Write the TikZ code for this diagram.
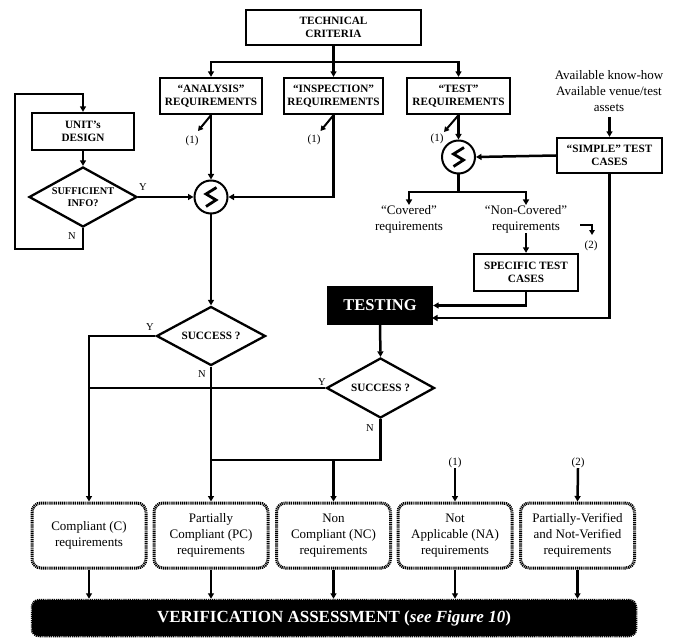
\documentclass[tikz,border=0pt]{standalone}
\usepackage{fontspec}
\setmainfont{Liberation Serif}
\usetikzlibrary{arrows.meta,shapes.geometric,calc}
\begin{document}
\begin{tikzpicture}[x=1pt,y=-1pt,
  ln/.style={line width=2.5pt},
  arr/.style={line width=2.5pt,-{Triangle[length=5.5pt,width=6pt]}},
  thin arr/.style={line width=2pt,-{Triangle[length=5pt,width=5.5pt]}},
  box/.style={draw,line width=2.3pt,fill=white,inner sep=0pt,align=center,
    font=\fontsize{11.2}{13}\selectfont\bfseries},
  dia/.style={draw,diamond,aspect=1.8,line width=2.3pt,fill=white,inner sep=0pt,align=center,
    minimum width=108pt,minimum height=60pt,font=\fontsize{11.2}{13}\selectfont\bfseries},
  res/.style={draw,line width=3pt,dash pattern=on 1.1pt off 0.8pt,rounded corners=9pt,
    fill=white,minimum width=114pt,minimum height=65pt,inner sep=0pt,align=center,
    font=\fontsize{13}{16}\selectfont},
  txt/.style={align=center,inner sep=0pt,font=\fontsize{13}{16}\selectfont},
  note/.style={inner sep=0pt,font=\fontsize{11}{12}\selectfont},
  yn/.style={inner sep=0pt,font=\fontsize{10.5}{12}\selectfont},
  cmp/.style={draw,circle,line width=2pt,fill=white,minimum size=33pt,inner sep=0pt},
]
\useasboundingbox (0,0) rectangle (677,639);

% top boxes
\node[box,minimum width=175pt,minimum height=35pt] (tech) at (333.5,27.5) {TECHNICAL\\CRITERIA};
\node[box,minimum width=102pt,minimum height=36pt] (ana) at (211,96) {``ANALYSIS''\\REQUIREMENTS};
\node[box,minimum width=99pt,minimum height=36pt] (insp) at (333.5,96) {``INSPECTION''\\REQUIREMENTS};
\node[box,minimum width=103pt,minimum height=36pt] (test) at (458.5,96) {``TEST''\\REQUIREMENTS};
\node[box,minimum width=102pt,minimum height=37pt] (unit) at (83,131.5) {UNIT's\\DESIGN};
\node[dia,font=\fontsize{10.3}{12.5}\selectfont\bfseries] (suff) at (83,197) {SUFFICIENT\\INFO?};
\node[cmp] (c1) at (211,197) {};
\node[cmp] (c2) at (458.5,157) {};
\node[box,minimum width=105pt,minimum height=35pt] (simple) at (609.5,155.5) {``SIMPLE'' TEST\\CASES};
\node[txt] (avail) at (609,91) {Available know-how\\Available venue/test\\assets};
\node[txt,anchor=north] (cov) at (409,205) {``Covered''\\requirements};
\node[txt,anchor=north] (noncov) at (526,205) {``Non-Covered''\\requirements};
\node[box,minimum width=104pt,minimum height=37pt] (spec) at (526,272.5) {SPECIFIC TEST\\CASES};
\node[box,fill=black,text=white,minimum width=104pt,minimum height=37pt,
  font=\fontsize{16.5}{18}\selectfont\bfseries] (testing) at (380,305.5) {TESTING};
\node[dia,minimum width=109pt,minimum height=59pt] (s1) at (211,336) {SUCCESS ?};
\node[dia] (s2) at (380.5,388) {SUCCESS ?};

% result boxes
\node[res] (comp) at (89,535.5) {Compliant (C)\\requirements};
\node[res] (pc) at (211,535.5) {Partially\\Compliant (PC)\\requirements};
\node[res] (nc) at (333.5,535.5) {Non\\Compliant (NC)\\requirements};
\node[res] (na) at (455,535.5) {Not\\Applicable (NA)\\requirements};
\node[res] (pv) at (577.5,535.5) {Partially-Verified\\and Not-Verified\\requirements};
\node[draw,line width=2.5pt,dash pattern=on 1.1pt off 0.8pt,rounded corners=7pt,fill=black,
  text=white,minimum width=604pt,minimum height=36pt,inner sep=0pt,
  font=\fontsize{17}{19}\selectfont\bfseries] (verif) at (334,618)
  {VERIFICATION ASSESSMENT (\textit{see Figure 10})};

% comparator glyphs
\foreach \c in {c1,c2}{
  \draw[line width=2.8pt,line join=miter,line cap=butt]
    ($(\c)+(5.5,-9.5)$) -- ($(\c)+(-5,-3)$) -- ($(\c)+(5,3)$) -- ($(\c)+(-5,9.5)$);
}

% technical criteria tree
\coordinate (j0) at (333.5,62);
\draw[ln] (tech.south) -- (j0);
\draw[arr] (j0) -| (ana.north);
\draw[arr] (j0) -- (insp.north);
\draw[arr] (j0) -| (test.north);

% (1) markers
\coordinate (d1) at (198,131);
\coordinate (d2) at (320.5,131);
\coordinate (d3) at (444,132);
\draw[thin arr] (ana.south) -- (d1);
\draw[thin arr] (insp.south) -- (d2);
\draw[thin arr] (test.south) -- (d3);
\node[note] (n1) at (192,141) {(1)};
\node[note] (n2) at (314,140) {(1)};
\node[note] (n3) at (437,139) {(1)};

% analysis/inspection branch
\draw[arr] (ana.south) -- (c1.north);
\draw[arr] (insp.south) |- (c1.east);
\draw[arr] (suff.east) -- (c1.west);
\node[yn] (ysuff) at (143,187) {Y};
\draw[arr] (unit.south) -- (suff.north);
\coordinate (l1) at (83,249);
\coordinate (l2) at (15,249);
\coordinate (l3) at (15,94);
\coordinate (l4) at (83,94);
\draw[arr] (suff.south) -- (l1) -- (l2) -- (l3) -- (l4) -- (unit.north);
\node[yn] (nsuff) at (72,236) {N};

\draw[arr] (c1.south) -- (s1.north);

% test branch
\draw[arr] (test.south) -- (c2.north);
\draw[arr] (simple.west) -- (c2.east);
\coordinate (av) at (609.5,117);
\draw[arr] (av) -- (simple.north);
\coordinate (j1) at (458.5,192);
\draw[ln] (c2.south) -- (j1);
\draw[arr] (j1) -| (cov.north);
\draw[arr] (j1) -| (noncov.north);
\draw[arr] (noncov.south) -- (spec.north);
\draw[arr] (spec.south) |- (testing.east);
\coordinate (t2) at (432,318);
\draw[arr] (simple.south) |- (t2);

% (2) marker
\coordinate (m1) at (580,225);
\coordinate (m2) at (592,225);
\coordinate (m3) at (592,235);
\draw[thin arr] (m1) -- (m2) -- (m3);
\node[note] (n4) at (591,246) {(2)};

% success decisions
\draw[arr] (testing.south) -- (s2.north);
\draw[arr] (s1.west) -| (comp.north);
\node[yn] (y1) at (150,327) {Y};
\draw[arr] (s1.south) -- (pc.north);
\node[yn] (nn1) at (202,374) {N};
\coordinate (k1) at (88,388);
\draw[ln] (s2.west) -- (k1);
\node[yn] (y2) at (322,382) {Y};
\node[yn] (nn2) at (370,428) {N};
\coordinate (k2) at (380.5,460);
\coordinate (k3) at (211,460);
\draw[ln] (s2.south) -- (k2) -- (k3);
\coordinate (k4) at (333.5,460);
\draw[arr] (k4) -- (nc.north);

% (1)/(2) above NA/PV
\node[note] (n5) at (455,463) {(1)};
\node[note] (n6) at (578,463) {(2)};
\draw[arr] (n5.south) -- (na.north);
\draw[arr] (n6.south) -- (pv.north);

% to verification
\foreach \b in {comp,pc,nc,na,pv}{
  \draw[arr] (\b.south) -- (\b.south |- verif.north);
}
\end{tikzpicture}
\end{document}
